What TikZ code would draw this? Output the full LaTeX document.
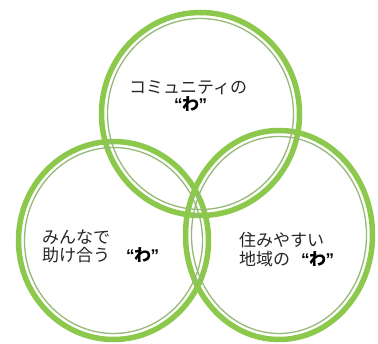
\documentclass[tikz,border=0pt]{standalone}
\usepackage{fontspec}
\newfontfamily\jp{Noto Sans CJK JP}
\newfontfamily\qf{Liberation Sans}
\definecolor{ringgreen}{RGB}{140,200,75}
\definecolor{ringinner}{RGB}{150,185,120}
\newcommand{\wamark}{{\qf\bfseries\fontsize{17}{18}\selectfont “}\kern-0.5pt{\jp\bfseries\fontsize{17}{18}\selectfont わ}\kern-0.5pt{\qf\bfseries\fontsize{17}{18}\selectfont ”}}
\begin{document}
\begin{tikzpicture}[x=1pt,y=-1pt,
  band/.style={draw=ringgreen,line width=5.5pt},
  innerline/.style={draw=ringinner,line width=1.3pt},
  lbl/.style={anchor=base west,inner sep=0pt,font=\jp\fontsize{17}{18}\selectfont,text=black!85},
  wa/.style={anchor=base west,inner sep=0pt}]
\useasboundingbox[fill=white] (0,0) rectangle (378,344);
% rings
\draw[band] (200.5,114) ellipse [x radius=99pt,y radius=101.5pt];
\draw[band] (113.5,240.5) ellipse [x radius=95pt,y radius=99pt];
\draw[band] (279,235) ellipse [x radius=93.5pt,y radius=104.5pt];
\draw[innerline] (200.5,114) ellipse [x radius=93pt,y radius=95.5pt];
\draw[innerline] (113.5,240.5) ellipse [x radius=89pt,y radius=93pt];
\draw[innerline] (279,235) ellipse [x radius=87.5pt,y radius=98.5pt];
% texts
\node[lbl] (t1) at (129,94) {コミュニティの};
\node[wa] (t2) at (174,111) {\wamark};
\node[lbl] (l1) at (42,244) {みんなで};
\node[lbl] (l2) at (42,262) {助け合う};
\node[wa] (l3) at (126,262) {\wamark};
\node[lbl] (r1) at (239,247) {住みやすい};
\node[lbl] (r2) at (239,266) {地域の};
\node[wa] (r3) at (301,266) {\wamark};
\end{tikzpicture}
\end{document}
